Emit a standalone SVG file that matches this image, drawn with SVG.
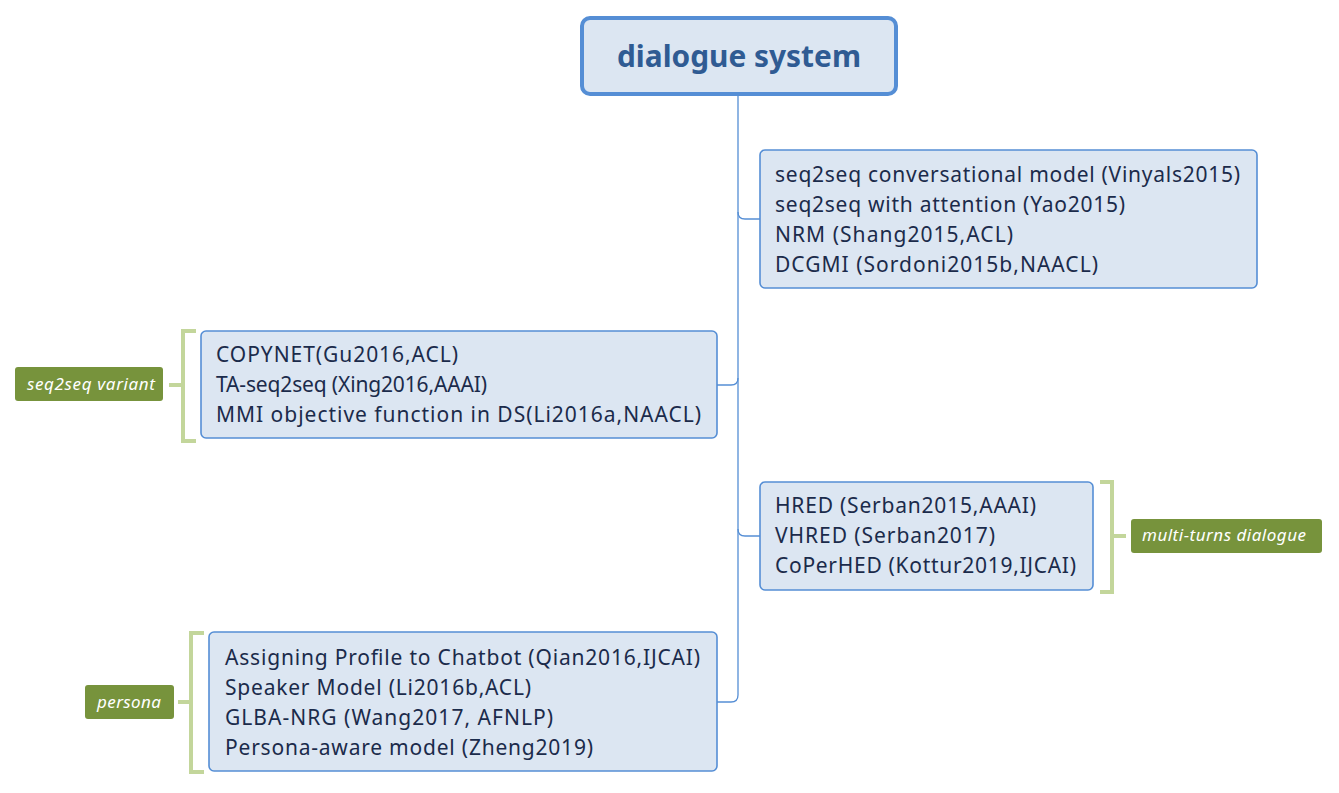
<svg xmlns="http://www.w3.org/2000/svg" width="1339" height="793" viewBox="0 0 1339 793">
<style>
.node{fill:#dce6f2;stroke:#558ed5;stroke-width:1.6}
.t{font-family:"Noto Sans","Open Sans",sans-serif;font-size:21px;fill:#1b2b4b}
.conn{fill:none;stroke:#558ed5;stroke-width:1.3}
.br{fill:none;stroke:#c3d69b;stroke-width:4}
.lab{fill:#77933c}
.lt{font-family:"Noto Sans","Open Sans",sans-serif;font-size:17px;font-style:italic;fill:#ffffff}
</style>
<rect width="1339" height="793" fill="#ffffff"/>
<g id="connectors">
<path class="conn" d="M738,95 V695 Q738,702 731,702 H717"/>
<path class="conn" d="M738,212 Q738,219 745,219 H760"/>
<path class="conn" d="M738,378 Q738,385 731,385 H717"/>
<path class="conn" d="M738,529 Q738,536 745,536 H760"/>
</g>
<g id="root">
<rect x="582" y="18" width="314" height="76" rx="8" fill="#dce6f2" stroke="#558ed5" stroke-width="4"/>
<text x="739" y="67" text-anchor="middle" textLength="244" lengthAdjust="spacingAndGlyphs" style="font-family:'Noto Sans','Open Sans',sans-serif;font-size:30px;font-weight:bold;fill:#2f5b93">dialogue system</text>
</g>
<g id="node-seq2seq">
<rect class="node" x="760" y="150" width="497" height="138" rx="5"/>
<text class="t" x="775" y="182" textLength="465">seq2seq conversational model (Vinyals2015)</text>
<text class="t" x="775" y="212" textLength="350">seq2seq with attention (Yao2015)</text>
<text class="t" x="775" y="242" textLength="238">NRM (Shang2015,ACL)</text>
<text class="t" x="775" y="272" textLength="323">DCGMI (Sordoni2015b,NAACL)</text>
</g>
<g id="node-variant">
<rect class="node" x="201" y="331" width="516" height="107" rx="5"/>
<text class="t" x="216" y="362" textLength="242">COPYNET(Gu2016,ACL)</text>
<text class="t" x="216" y="392" textLength="271">TA-seq2seq (Xing2016,AAAI)</text>
<text class="t" x="216" y="422" textLength="485">MMI objective function in DS(Li2016a,NAACL)</text>
</g>
<g id="node-multiturn">
<rect class="node" x="760" y="482" width="333" height="108" rx="5"/>
<text class="t" x="775" y="513" textLength="261">HRED (Serban2015,AAAI)</text>
<text class="t" x="775" y="543" textLength="220">VHRED (Serban2017)</text>
<text class="t" x="775" y="573" textLength="301">CoPerHED (Kottur2019,IJCAI)</text>
</g>
<g id="node-persona">
<rect class="node" x="209" y="632" width="508" height="139" rx="5"/>
<text class="t" x="225" y="665" textLength="475">Assigning Profile to Chatbot (Qian2016,IJCAI)</text>
<text class="t" x="225" y="695" textLength="306">Speaker Model (Li2016b,ACL)</text>
<text class="t" x="225" y="725" textLength="328">GLBA-NRG (Wang2017, AFNLP)</text>
<text class="t" x="225" y="755" textLength="368">Persona-aware model (Zheng2019)</text>
</g>
<g id="label-variant">
<path class="br" d="M196,331 H183 V441 H196 M183,385 H169"/>
<rect class="lab" x="15" y="367" width="148" height="34" rx="3"/>
<text class="lt" x="91" y="390" text-anchor="middle" textLength="128">seq2seq variant</text>
</g>
<g id="label-multiturn">
<path class="br" d="M1100,482 H1112 V592 H1100 M1112,536 H1126"/>
<rect class="lab" x="1131" y="519" width="191" height="34" rx="3"/>
<text class="lt" x="1224" y="541" text-anchor="middle" textLength="164">multi-turns dialogue</text>
</g>
<g id="label-persona">
<path class="br" d="M204,633 H191 V772 H204 M191,702 H178"/>
<rect class="lab" x="85" y="685" width="89" height="34" rx="3"/>
<text class="lt" x="129" y="708" text-anchor="middle" textLength="64">persona</text>
</g>
</svg>
